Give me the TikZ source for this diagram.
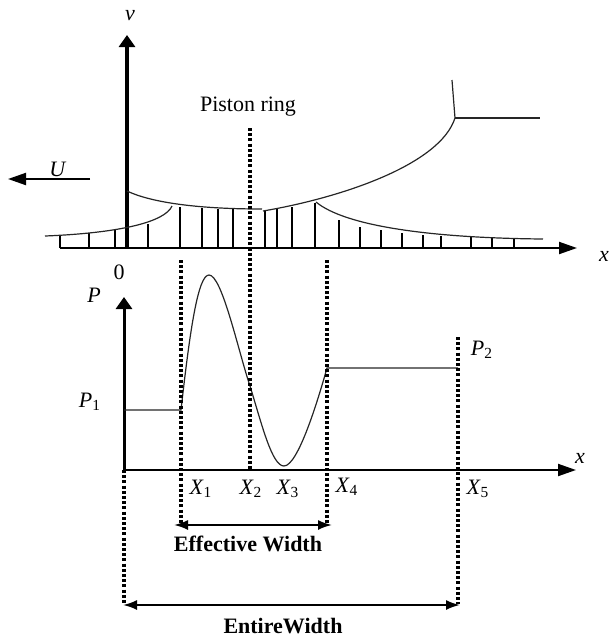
\documentclass[tikz,border=0pt]{standalone}
\usepackage{fontspec}
\setmainfont{Liberation Serif}
\usetikzlibrary{arrows.meta}

\begin{document}
\begin{tikzpicture}[
  x=0.5pt, y=-0.5pt,
  every node/.style={font=\fontsize{11}{13}\selectfont, inner sep=1pt},
  axisarr/.style={line width=1pt, -{Triangle[length=9pt,width=6pt]}},
  vaxis/.style={line width=1.7pt, -{Triangle[length=6pt,width=8pt]}},
  film/.style={line width=0.6pt, black!85},
  hatch/.style={line width=0.6pt},
  guide/.style={line width=1.6pt, dash pattern=on 1.5pt off 1.1pt},
  span/.style={line width=1pt, {Latex[length=7pt,width=5pt]}-{Latex[length=7pt,width=5pt]}},
  lbl/.style={font=\fontsize{11}{13}\selectfont\bfseries}
]
\useasboundingbox (0,0) rectangle (609,639);

% top: film between ring and liner
\coordinate (vo) at (127,248);
\coordinate (vtop) at (127,35);
\coordinate (xl) at (60,248);
\coordinate (xr) at (577,248);
\draw[axisarr] (xl) -- (xr);
\draw[vaxis] (vo) -- (vtop);
\node (v) at (130,16) {\textit{v}};
\node (xtop) at (604,256) {\textit{x}};

\coordinate (ustart) at (90,179);
\coordinate (uend) at (8,179);
\draw[axisarr] (ustart) -- (uend);
\node (U) at (58,169) {\textit{U}};

\foreach \hx/\hy in {60/235,89/233,115/230,148/224,180/207,202/208,218/209,233/209,
                     265/210,277/209,292/207,315/203,339/220,360/227,381/230,402/233,
                     423/235,441/236,471/237,492/238,514/238}
  \draw[hatch] (\hx,248) -- (\hx,\hy);

\draw[film] (127,191) .. controls (150,202) and (195,209) .. (262,209);
\draw[film] (45,236) .. controls (120,233) and (165,222) .. (172,206);
\draw[film] (263,211) .. controls (340,198) and (440,165) .. (455,118);
\draw[film] (455,118) -- (452,80);
\draw[film] (455,118) -- (540,118);
\draw[film] (316,202) .. controls (345,226) and (430,238) .. (543,239);

\node (ring) at (248,107) {Piston ring};

% bottom: pressure
\coordinate (po) at (124,470);
\coordinate (ptop) at (124,297);
\coordinate (pxr) at (576,470);
\draw[axisarr] (po) -- (pxr);
\draw[vaxis, line width=1.5pt] (po) -- (ptop);
\node (zero) at (119,272) {0};
\node (P) at (94,295) {\textit{P}};
\node (xbot) at (580,458) {\textit{x}};

\draw[film] (124,410) -- (181,410)
  .. controls (190,330) and (198,275) .. (209,275)
  .. controls (222,275) and (238,350) .. (250,386)
  .. controls (262,425) and (272,466) .. (284,466)
  .. controls (298,466) and (318,400) .. (327,368) -- (458,368);

\node (P1) at (90,402) {\textit{P}\textsubscript{1}};
\node (P2) at (482,350) {\textit{P}\textsubscript{2}};

% dotted guides
\coordinate (g0a) at (124,470);  \coordinate (g0b) at (124,604);
\coordinate (g1a) at (181,260);  \coordinate (g1b) at (181,524);
\coordinate (g2a) at (250,128);  \coordinate (g2b) at (250,470);
\coordinate (g4a) at (327,260);  \coordinate (g4b) at (327,524);
\coordinate (g5a) at (458,337);  \coordinate (g5b) at (458,604);
\draw[guide] (g0a) -- (g0b);
\draw[guide] (g1a) -- (g1b);
\draw[guide] (g2a) -- (g2b);
\draw[guide] (g4a) -- (g4b);
\draw[guide] (g5a) -- (g5b);

\node (X1) at (201,489) {\textit{X}\textsubscript{1}};
\node (X2) at (251,489) {\textit{X}\textsubscript{2}};
\node (X3) at (288,489) {\textit{X}\textsubscript{3}};
\node (X4) at (347,487) {\textit{X}\textsubscript{4}};
\node (X5) at (478,489) {\textit{X}\textsubscript{5}};

% widths
\coordinate (ewl) at (174,525);
\coordinate (ewr) at (332,525);
\draw[span] (ewl) -- (ewr);
\node[lbl] (eff) at (248,544) {Effective Width};

\coordinate (twl) at (123,605);
\coordinate (twr) at (460,605);
\draw[span] (twl) -- (twr);
\node[lbl] (entire) at (283,626) {EntireWidth};
\end{tikzpicture}
\end{document}
